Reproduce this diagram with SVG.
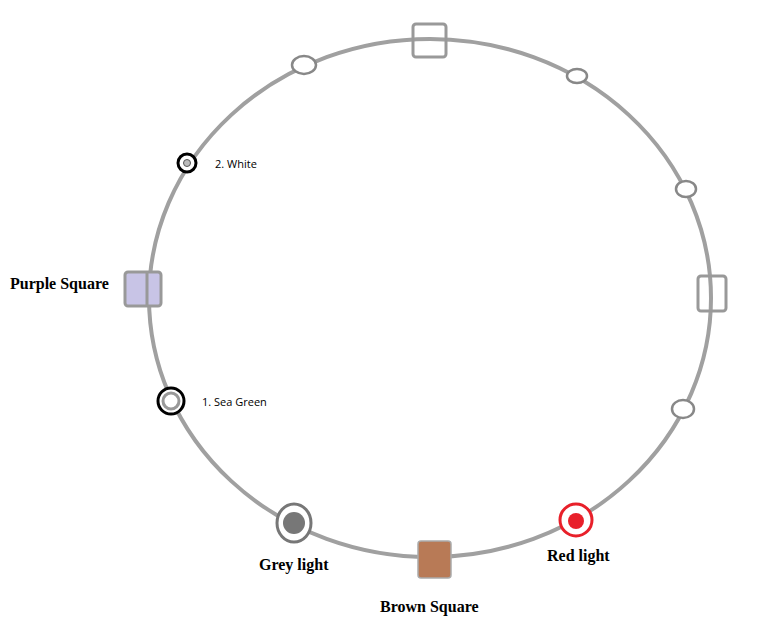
<svg xmlns="http://www.w3.org/2000/svg" width="759" height="625" viewBox="0 0 759 625">
<style>
.ring{fill:none;stroke:#a0a0a0;stroke-width:4}
.sq{fill:none;stroke:#999;stroke-width:3}
.ov{fill:#fff;stroke:#888;stroke-width:2.5}
.lbl{font-family:"Liberation Serif",serif;font-weight:bold;font-size:16px;fill:#000}
.sm{font-family:"Open Sans","DejaVu Sans",sans-serif;font-size:11px;fill:#000}
</style>
<rect width="759" height="625" fill="#fff"/>
<g id="connectors"><ellipse class="ring" cx="430" cy="298" rx="281" ry="259"/></g>
<g id="top-square"><rect class="sq" x="413" y="24" width="33" height="33" rx="3"/></g>
<g id="o1"><ellipse class="ov" cx="304" cy="65" rx="12" ry="9"/></g>
<g id="o2"><ellipse class="ov" cx="577" cy="76" rx="10" ry="7"/></g>
<g id="o3"><ellipse class="ov" cx="686" cy="189" rx="10" ry="8"/></g>
<g id="right-square"><rect class="sq" x="698" y="276" width="28" height="35" rx="3"/></g>
<g id="o4"><ellipse class="ov" cx="683" cy="409" rx="11" ry="9"/></g>
<g id="red-light"><circle cx="576" cy="520" r="16" fill="#fff" stroke="#e8202a" stroke-width="3"/><circle cx="576" cy="521" r="8" fill="#e8202a"/><text class="lbl" x="547" y="561">Red light</text></g>
<g id="brown-square"><rect x="418" y="541" width="33" height="37" rx="3" fill="#b87a56" stroke="#aaa" stroke-width="1.5"/><text class="lbl" x="380" y="612">Brown Square</text></g>
<g id="grey-light"><ellipse cx="294" cy="523" rx="17" ry="19" fill="#fff" stroke="#777" stroke-width="3"/><circle cx="294" cy="523" r="11" fill="#777"/><text class="lbl" x="259" y="570">Grey light</text></g>
<g id="sea-green"><circle cx="171" cy="401" r="13" fill="#fff" stroke="#000" stroke-width="3"/><circle cx="171" cy="401" r="8" fill="none" stroke="#999" stroke-width="3"/><text class="sm" x="202" y="406">1. Sea Green</text></g>
<g id="purple-square"><rect x="125" y="272" width="36" height="34" rx="3" fill="#c8c4e6" stroke="#999" stroke-width="3"/><line x1="147" y1="272" x2="147" y2="306" stroke="#999" stroke-width="3"/><text class="lbl" x="10" y="289">Purple Square</text></g>
<g id="white"><circle cx="187" cy="163" r="9" fill="#fff" stroke="#000" stroke-width="3"/><circle cx="187" cy="163" r="3.5" fill="#bbb" stroke="#555" stroke-width="1"/><text class="sm" x="215" y="168">2. White</text></g>
</svg>
